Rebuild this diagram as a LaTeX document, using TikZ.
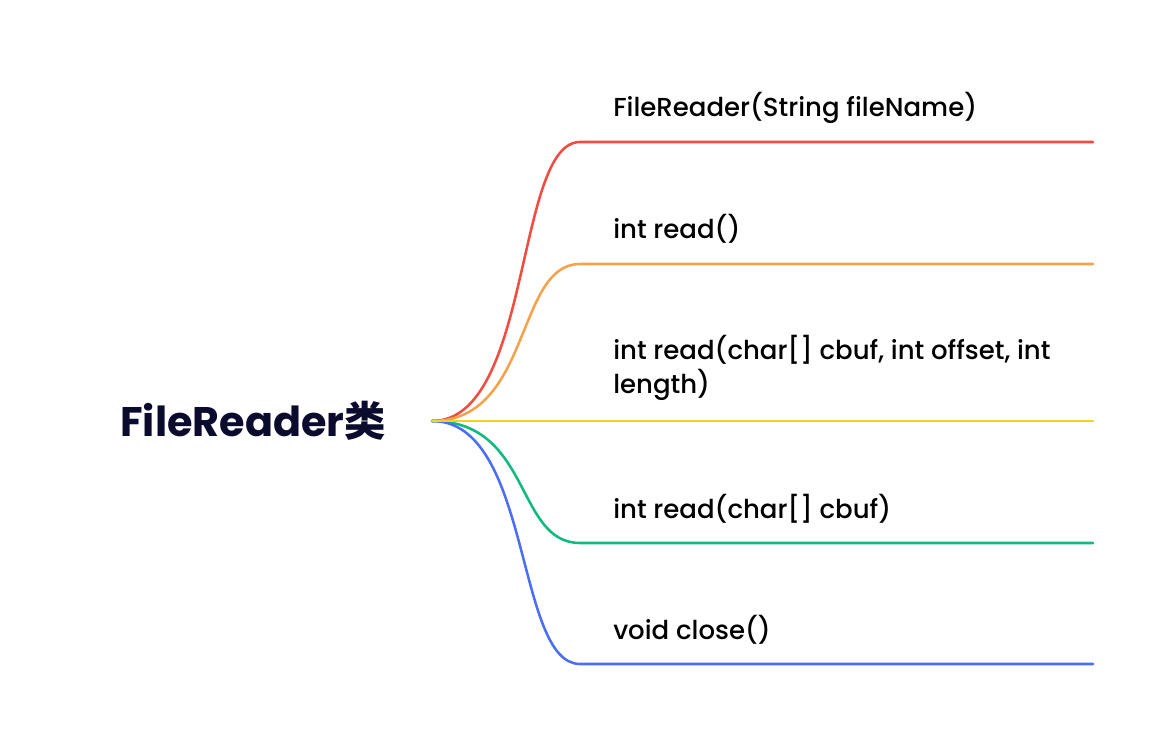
\documentclass[tikz,border=0pt]{standalone}
\usepackage{fontspec}
\setmainfont{Poppins}[UprightFont=* Medium, BoldFont=* Bold]
\newfontfamily\cjkfont{Noto Sans CJK SC}
\usetikzlibrary{positioning}
\usetikzlibrary{calc}
\definecolor{topicink}{HTML}{0B0B2E}
\definecolor{redline}{HTML}{F24B40}
\definecolor{orangeline}{HTML}{F4A24C}
\definecolor{yellowline}{HTML}{F3D31C}
\definecolor{greenline}{HTML}{10BA7C}
\definecolor{blueline}{HTML}{4A6EF6}

\begin{document}
\begin{tikzpicture}[
  x=0.75pt, y=-0.75pt,
  topic/.style={font=\fontsize{31}{36}\selectfont\bfseries, text=topicink, inner sep=0pt},
  item/.style={anchor=base west, align=left, inner sep=0pt, text=black,
    font=\fontsize{19.5}{25.5}\selectfont},
  branch/.style={line width=1.9pt, line cap=round}
]
\useasboundingbox (0,0) rectangle (1168,741);

% Central topic
\node[topic, anchor=west] (root) at (120,421) {FileReader{\cjkfont\bfseries 类}};
\coordinate (hub) at (432,421);

% Branch bends and ends
\coordinate (b1) at (580,142); \coordinate (e1) at (1093,142);
\coordinate (b2) at (580,264); \coordinate (e2) at (1093,264);
\coordinate (b3) at (580,421); \coordinate (e3) at (1093,421);
\coordinate (b4) at (580,543); \coordinate (e4) at (1093,543);
\coordinate (b5) at (580,664); \coordinate (e5) at (1093,664);

% Branches
\draw[branch, redline] (hub) .. controls +(100,0) and +(-65,0) .. (b1) -- (e1);
\draw[branch, orangeline] (hub) .. controls +(100,0) and +(-65,0) .. (b2) -- (e2);
\draw[branch, greenline] (hub) .. controls +(100,0) and +(-65,0) .. (b4) -- (e4);
\draw[branch, blueline] (hub) .. controls +(100,0) and +(-65,0) .. (b5) -- (e5);
\draw[branch, yellowline] (hub) -- (e3);

% Method labels
\node[item] (m1) at (613,117) {FileReader(String fileName)};
\node[item] (m2) at (613,239) {int read()};
\node[item] (m3) at (613,394) {int read(char[] cbuf, int offset, int\\length)};
\node[item] (m4) at (613,518) {int read(char[] cbuf)};
\node[item] (m5) at (613,639) {void close()};

\end{tikzpicture}
\end{document}
